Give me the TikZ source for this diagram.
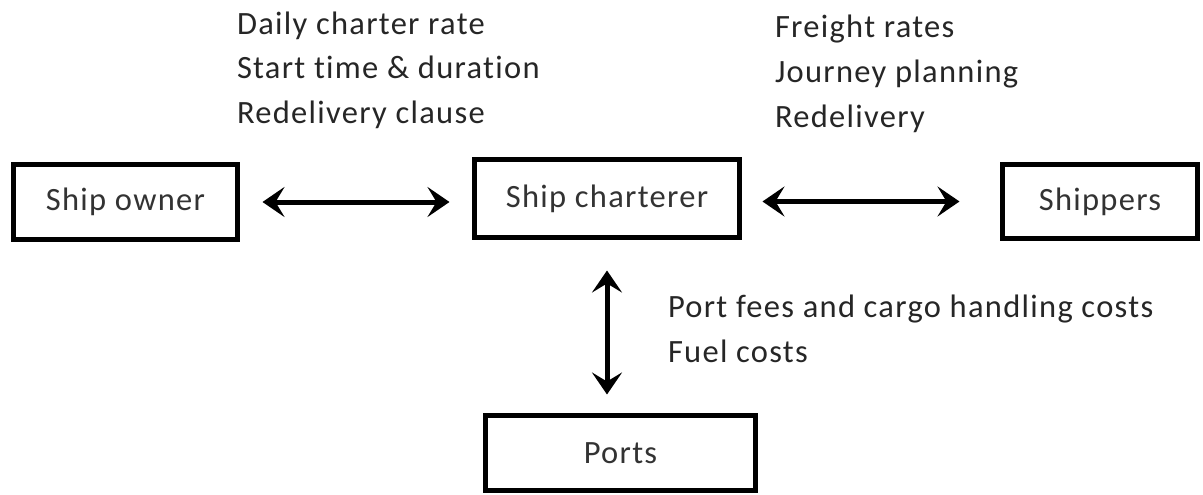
\documentclass[tikz,border=0pt]{standalone}
\usepackage{fontspec}
\setmainfont{Carlito}[LetterSpace=4, Ligatures=NoCommon]
\usetikzlibrary{arrows.meta}
\begin{document}
\begin{tikzpicture}[x=1pt,y=-1pt,
  every node/.style={inner sep=0pt, outer sep=0pt, font=\fontsize{32.5}{40}\selectfont, text=black!85},
  party/.style={draw=black, line width=5pt, minimum width=#1, text=black!80},
  lbl/.style={anchor=base west},
  arr/.style={line width=5pt, {Stealth[length=22pt,width=30pt,inset=9pt]}-{Stealth[length=22pt,width=30pt,inset=9pt]}}
]
\useasboundingbox (0,0) rectangle (1203,495);

% parties
\node[party=224pt, minimum height=75pt] (owner) at (125.5,202) {Ship owner};
\node[party=265pt, minimum height=78pt] (charterer) at (607,198.5) {Ship charterer};
\node[party=195pt, minimum height=74pt] (shippers) at (1100,201.5) {Shippers};
\node[party=270pt, minimum height=75pt] (ports) at (620.5,453) {Ports};

% contract terms between owner and charterer
\node[lbl] (t1) at (237,35) {Daily charter rate};
\node[lbl] (t2) at (237,79) {Start time \& duration};
\node[lbl] (t3) at (237,123) {Redelivery clause};

% terms between charterer and shippers
\node[lbl] (s1) at (775,38) {Freight rates};
\node[lbl] (s2) at (775,83) {Journey planning};
\node[lbl] (s3) at (775,127) {Redelivery};

% costs between charterer and ports
\node[lbl] (p1) at (668,317) {Port fees and cargo handling costs};
\node[lbl] (p2) at (668,362) {Fuel costs};

% relations
\draw[arr, shorten <=25pt, shorten >=25pt] (owner.east) -- (owner.east -| charterer.west);
\draw[arr, shorten <=23pt, shorten >=43pt] (charterer.east |- shippers.west) -- (shippers.west);
\draw[arr, shorten <=33pt, shorten >=21pt] (charterer.south) -- (charterer.south |- ports.north);
\end{tikzpicture}
\end{document}
